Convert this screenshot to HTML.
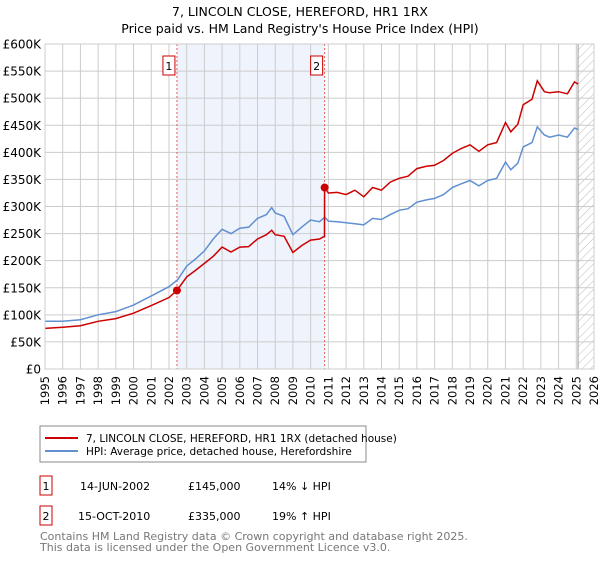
<!DOCTYPE html>
<html><head><meta charset="utf-8"><style>
body{margin:0;background:#fff;font-family:"Liberation Sans","DejaVu Sans",sans-serif;}
svg text{font-family:"DejaVu Sans","Liberation Sans",sans-serif;}
</style></head><body>
<svg id="chart" width="600" height="560" xmlns="http://www.w3.org/2000/svg">
<defs><pattern id="hatch" width="6" height="6" patternUnits="userSpaceOnUse" patternTransform="rotate(45)"><line x1="0" y1="0" x2="0" y2="6" stroke="#bbb" stroke-width="1"/></pattern></defs>
<text x="300" y="16" text-anchor="middle" font-size="12.5" fill="#000">7, LINCOLN CLOSE, HEREFORD, HR1 1RX</text>
<text x="300" y="33" text-anchor="middle" font-size="12.5" fill="#000">Price paid vs. HM Land Registry's House Price Index (HPI)</text>
<g id="plot"></g>
<rect x="40" y="426" width="326" height="36" fill="#fff" stroke="#888"/>
<line x1="45" y1="438" x2="78" y2="438" stroke="#cc0000" stroke-width="2"/>
<text x="86" y="442" font-size="10.5">7, LINCOLN CLOSE, HEREFORD, HR1 1RX (detached house)</text>
<line x1="45" y1="451" x2="78" y2="451" stroke="#6090d0" stroke-width="2"/>
<text x="86" y="455" font-size="10.5">HPI: Average price, detached house, Herefordshire</text>
<g>
<rect x="40" y="476" width="12" height="19" fill="#fff" stroke="#cc0000"/><text x="46" y="490" text-anchor="middle" font-size="11">1</text>
<text x="80" y="490" font-size="11">14-JUN-2002</text><text x="188" y="490" font-size="11">£145,000</text><text x="272" y="490" font-size="11">14% ↓ HPI</text></g>
<g>
<rect x="40" y="506" width="12" height="19" fill="#fff" stroke="#cc0000"/><text x="46" y="520" text-anchor="middle" font-size="11">2</text>
<text x="78" y="520" font-size="11">15-OCT-2010</text><text x="188" y="520" font-size="11">£335,000</text><text x="272" y="520" font-size="11">19% ↑ HPI</text></g>
<text x="40" y="540" font-size="11" fill="#777">Contains HM Land Registry data © Crown copyright and database right 2025.</text>
<text x="40" y="551" font-size="11" fill="#777">This data is licensed under the Open Government Licence v3.0.</text>
</svg>
<script>
const years=[1995,1996,1997,1998,1999,2000,2001,2002,2003,2004,2005,2006,2007,2008,2009,2010,2011,2012,2013,2014,2015,2016,2017,2018,2019,2020,2021,2022,2023,2024,2025,2026];
const yTicks=[0,50000,100000,150000,200000,250000,300000,350000,400000,450000,500000,550000,600000];
const yTickLabels=["£0","£50K","£100K","£150K","£200K","£250K","£300K","£350K","£400K","£450K","£500K","£550K","£600K"];
const hpiT=[1995,1996,1997,1998,1999,2000,2001,2002,2002.5,2003,2003.5,2004,2004.5,2005,2005.5,2006,2006.5,2007,2007.5,2007.8,2008,2008.5,2009,2009.5,2010,2010.5,2010.8,2011,2011.5,2012,2012.5,2013,2013.5,2014,2014.5,2015,2015.5,2016,2016.5,2017,2017.5,2018,2018.5,2019,2019.5,2020,2020.5,2021,2021.3,2021.7,2022,2022.5,2022.8,2023.2,2023.5,2024,2024.5,2024.9,2025.1];
const hpiV=[88,88,91,100,106,118,135,152,165,190,203,218,240,258,250,260,262,278,285,298,288,282,248,262,275,272,280,273,272,270,268,266,278,276,285,293,296,308,312,315,322,335,342,348,338,348,352,382,368,380,410,418,447,432,428,432,428,445,442];
const propT=[1995,1996,1997,1998,1999,2000,2001,2002,2002.45,2003,2003.5,2004,2004.5,2005,2005.5,2006,2006.5,2007,2007.5,2007.8,2008,2008.5,2009,2009.5,2010,2010.5,2010.78,2010.79,2011,2011.5,2012,2012.5,2013,2013.5,2014,2014.5,2015,2015.5,2016,2016.5,2017,2017.5,2018,2018.5,2019,2019.5,2020,2020.5,2021,2021.3,2021.7,2022,2022.5,2022.8,2023.2,2023.5,2024,2024.5,2024.9,2025.1];
const propV=[75,77,80,88,93,103,117,132,145,170,182,195,208,225,216,225,226,240,248,256,248,245,215,228,238,240,245,335,325,326,322,330,318,335,330,345,352,356,370,374,376,385,398,407,414,402,414,418,455,438,452,488,498,532,512,510,512,508,530,526];
const saleT=[2002.45,2010.79];
const saleV=[145,335];
const saleLabels=["1","2"];

const X0=45,X1=594,Y0=369,Y1=44;
const xs=t=>X0+(t-1995)/(2026-1995)*(X1-X0);
const ys=v=>Y0-v/600000*(Y0-Y1);
const NS="http://www.w3.org/2000/svg";
const g=document.getElementById('plot');
function mk(tag,attrs,parent){const e=document.createElementNS(NS,tag);for(const k in attrs)e.setAttribute(k,attrs[k]);(parent||g).appendChild(e);return e;}
let e;
e=mk('rect',{x:X0,y:Y1,width:X1-X0,height:Y0-Y1,fill:'#fff'});
e=mk('rect',{x:xs(saleT[0]),y:Y1,width:xs(saleT[1])-xs(saleT[0]),height:Y0-Y1,fill:'#eef3fc'});


e=mk('rect',{x:xs(2025.1),y:Y1,width:X1-xs(2025.1),height:Y0-Y1,fill:'url(#hatch)'});


years.forEach(y=>{
  e=mk('line',{x1:xs(y),x2:xs(y),y1:Y1,y2:Y0,stroke:'#ccc','stroke-width':1});
  
  
  e=mk('text',{x:0,y:0,transform:`translate(${xs(y)+4},${Y0+7}) rotate(-90)`,'text-anchor':'end','font-size':11.5});
  e.textContent=y;
  
  
});
yTicks.forEach((v,i)=>{
  e=mk('line',{x1:X0,x2:X1,y1:ys(v),y2:ys(v),stroke:'#ccc','stroke-width':1});
  
  
  e=mk('text',{x:X0-4,y:ys(v)+4.5,'text-anchor':'end','font-size':12});
  e.textContent=yTickLabels[i];
  
  
});
e=mk('line',{x1:xs(2025.1),x2:xs(2025.1),y1:Y1,y2:Y0,stroke:'#999','stroke-width':1});


saleT.forEach((t,i)=>{
  e=mk('line',{x1:xs(t),x2:xs(t),y1:Y1,y2:Y0,stroke:'#e06060','stroke-width':1,'stroke-dasharray':'2,2'});
  
  
});
e=mk('path',{d:hpiT.map((t,i)=>(i?'L':'M')+xs(t).toFixed(1)+','+ys(hpiV[i]*1000).toFixed(1)).join(''),fill:'none',stroke:'#6090d0','stroke-width':1.5});


e=mk('path',{d:propT.map((t,i)=>(i?'L':'M')+xs(t).toFixed(1)+','+ys(propV[i]*1000).toFixed(1)).join(''),fill:'none',stroke:'#cc0000','stroke-width':1.5});


saleT.forEach((t,i)=>{
  e=mk('circle',{cx:xs(t),cy:ys(saleV[i]*1000),r:4,fill:'#cc0000'});
  
  
  e=mk('rect',{x:xs(t)-14,y:56,width:12,height:19,fill:'#fff',stroke:'#cc0000'});
  
  
  e=mk('text',{x:xs(t)-8,y:70,'text-anchor':'middle','font-size':11});
  e.textContent=saleLabels[i];
  
  
});
e=mk('rect',{x:X0,y:Y1,width:X1-X0,height:Y0-Y1,fill:'none',stroke:'#ccc'});
</script>
</body></html>
